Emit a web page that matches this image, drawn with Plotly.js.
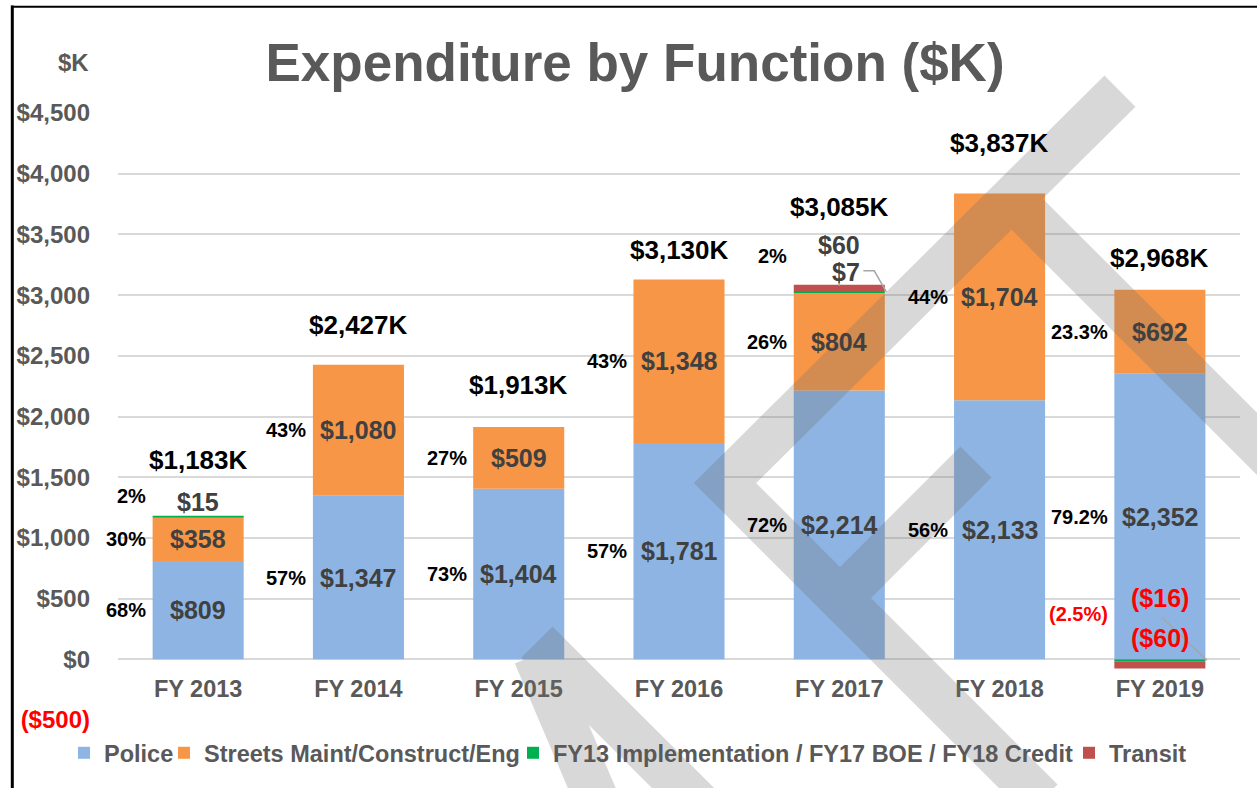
<!DOCTYPE html>
<html><head><meta charset="utf-8">
<script src="https://cdn.plot.ly/plotly-3.0.1.min.js"></script>
<style>html,body{margin:0;padding:0;background:#fff;overflow:hidden}#chart{width:1257px;height:788px}</style>
</head><body><div id="chart"></div>
<script>
// ---------------- data ----------------
const categories = ['FY 2013','FY 2014','FY 2015','FY 2016','FY 2017','FY 2018','FY 2019'];
const police  = [809, 1347, 1404, 1781, 2214, 2133, 2352];
const streets = [358, 1080, 509, 1348, 804, 1704, 692];
const fyOther = [15, 0, 0, 0, 7, 0, -16];
const transit = [0, 0, 0, 0, 60, 0, -60];
const totalLabels = ['$1,183K','$2,427K','$1,913K','$3,130K','$3,085K','$3,837K','$2,968K'];
const policePct  = ['68%','57%','73%','57%','72%','56%','79.2%'];
const streetsPct = ['30%','43%','27%','43%','26%','44%','23.3%'];
const smallPct   = ['2%','','','','2%','','(2.5%)'];
const seriesNames = ['Police','Streets Maint/Construct/Eng','FY13 Implementation / FY17 BOE / FY18 Credit','Transit'];
const yTicks = [-500, 0, 500, 1000, 1500, 2000, 2500, 3000, 3500, 4000, 4500];

// ---------------- style ----------------
const W = 1257, H = 788;
const M = {l: 118, r: 17, t: 113, b: 68};
const Y_RANGE = [-500, 4500];
const FONT = 'Liberation Sans, Arial, Helvetica, sans-serif';
const GREY = '#595959', VAL = '#404040', RED = '#ff0000';
const COLORS = ['#8db4e2', '#f79646', '#00b050', '#c0504d'];
const LEGEND_W = [55, 304, 511, null];
const totalShift = [56, 40, 42, 29, 78, 50, 32];
const smallLabelStyle = [
  {i: 0, s: 'other',   base: 'top',  dy: 14, dx: 0},
  {i: 4, s: 'transit', base: 'top',  dy: 40, dx: 0},
  {i: 4, s: 'other',   base: 'top',  dy: 13, dx: 7},
  {i: 6, s: 'other',   base: 'zero', dy: 61, dx: 0},
  {i: 6, s: 'transit', base: 'zero', dy: 21, dx: 0}
];
const smallPctShift = {0: ['top', 20], 4: ['top', 29], 6: ['zero', 45]};

const plotW = W - M.l - M.r, plotH = H - M.t - M.b;
const px = x => (x - M.l) / plotW;
const py = y => (H - M.b - y) / plotH;
const fmt = v => (v < 0 ? '($' + Math.abs(v).toLocaleString('en-US') + ')' : '$' + v.toLocaleString('en-US'));

const seriesVals = {police, streets, other: fyOther, transit};
const posTop = categories.map((c, i) => [police[i], streets[i], fyOther[i], transit[i]].filter(v => v > 0).reduce((a, b) => a + b, 0));

// ---------------- traces ----------------
const traces = [police, streets, fyOther, transit].map((vals, k) => {
  const t = {type: 'bar', x: categories, y: vals, name: seriesNames[k],
    marker: {color: COLORS[k], line: {width: 0}}, hoverinfo: 'skip'};
  if (LEGEND_W[k]) t.legendwidth = LEGEND_W[k];
  return t;
});

// ---------------- annotations ----------------
const ann = [];
const label = (o) => Object.assign({xref: 'x', yref: 'y', showarrow: false, xanchor: 'center', yanchor: 'middle'}, o);
categories.forEach((c, i) => {
  const pMid = police[i] / 2, sMid = police[i] + streets[i] / 2;
  ann.push(label({x: c, y: pMid, text: fmt(police[i]), font: {family: FONT, size: 25, color: VAL, weight: 700}}));
  ann.push(label({x: c, y: pMid, text: policePct[i], xanchor: 'right', xshift: -50, font: {family: FONT, size: 20, color: '#000', weight: 700}}));
  ann.push(label({x: c, y: sMid, text: fmt(streets[i]), font: {family: FONT, size: 25, color: VAL, weight: 700}}));
  ann.push(label({x: c, y: sMid, text: streetsPct[i], xanchor: 'right', xshift: -50, font: {family: FONT, size: 20, color: '#000', weight: 700}}));
  ann.push(label({x: c, y: posTop[i], yshift: totalShift[i], text: totalLabels[i], font: {family: FONT, size: 26, color: '#000', weight: 700}}));
  if (smallPct[i]) {
    const [b, dy] = smallPctShift[i];
    ann.push(label({x: c, y: b === 'top' ? posTop[i] : 0, yshift: dy, xanchor: 'right', xshift: -50, text: smallPct[i],
      font: {family: FONT, size: 20, color: smallPct[i].startsWith('(') ? RED : '#000', weight: 700}}));
  }
});
smallLabelStyle.forEach(st => {
  const v = seriesVals[st.s][st.i];
  ann.push(label({x: categories[st.i], y: st.base === 'top' ? posTop[st.i] : 0, yshift: st.dy, xshift: st.dx, text: fmt(v),
    font: {family: FONT, size: 25, color: v < 0 ? RED : VAL, weight: 700}}));
});
ann.push({xref: 'paper', yref: 'paper', x: px(91), y: py(62), xanchor: 'right', yanchor: 'middle', showarrow: false,
  text: '$K', font: {family: FONT, size: 24, color: GREY, weight: 700}});

// ---------------- shapes ----------------
const shapes = [];
// frame
shapes.push({type: 'line', xref: 'paper', yref: 'paper', x0: px(12.3), x1: px(12.3), y0: py(5.5), y1: py(800), line: {color: '#000', width: 3}, layer: 'above'});
shapes.push({type: 'line', xref: 'paper', yref: 'paper', x0: px(11), x1: px(1270), y0: py(6.7), y1: py(6.7), line: {color: '#000', width: 2}, layer: 'above'});
// leader lines
const leader = (i, yv, path) => ({type: 'path', xref: 'x', yref: 'y', xsizemode: 'pixel', ysizemode: 'pixel',
  xanchor: i, yanchor: yv, path: path, line: {color: '#a6a6a6', width: 1.5}, layer: 'above'});
shapes.push(leader(4, posTop[4], 'M24,14L35,14L47,-7'));
shapes.push(leader(4, posTop[4], 'M0,8L0,-1'));
shapes.push(leader(6, 0, 'M2,42L47,-1'));
// watermark
const wm = pts => pts.map(seg => seg.map((p, k) => (k ? 'L' : 'M') + px(p[0]).toFixed(4) + ',' + py(p[1]).toFixed(4)).join('')).join('');
const wmPath = wm([
  [[1042, 800], [725, 483], [1120, 91]],
  [[840, 598], [976, 462]],
  [[1012, 199], [1300, 487]],
  [[537, 642], [706, 811]],
  [[535, 655], [599, 805]]
]);
shapes.push({type: 'path', xref: 'paper', yref: 'paper', path: wmPath, line: {color: 'rgba(110,110,110,0.27)', width: 44}, layer: 'above'});

// ---------------- layout ----------------
const layout = {
  width: W, height: H, margin: M, paper_bgcolor: '#fff', plot_bgcolor: '#fff',
  barmode: 'relative', bargap: 0.432,
  title: {text: 'Expenditure by Function ($K)', xref: 'container', yref: 'container', x: 635 / W, y: 1 - 62 / H,
    xanchor: 'center', yanchor: 'middle', font: {family: FONT, size: 53, color: GREY, weight: 700}},
  xaxis: {type: 'category', range: [-0.5, categories.length - 0.5], autorange: false, anchor: 'free',
    position: (0 - Y_RANGE[0]) / (Y_RANGE[1] - Y_RANGE[0]),
    showgrid: false, zeroline: false, showline: false, ticks: '', ticklabelstandoff: 13,
    tickfont: {family: FONT, size: 23.5, color: GREY, weight: 700}, fixedrange: true},
  yaxis: {range: Y_RANGE, autorange: false, tickvals: yTicks,
    ticktext: yTicks.map(v => v < 0 ? '<span style="color:' + RED + '">' + fmt(v) + '</span>' : fmt(v)),
    showgrid: true, gridcolor: '#d9d9d9', gridwidth: 2, zeroline: false, showline: false, ticks: '',
    ticklabelstandoff: 27, tickfont: {family: FONT, size: 24, color: GREY, weight: 700}, fixedrange: true},
  legend: {orientation: 'h', x: px(64), y: py(753), xanchor: 'left', yanchor: 'middle', traceorder: 'normal',
    font: {family: FONT, size: 23.5, color: GREY, weight: 700}, bgcolor: 'rgba(0,0,0,0)', itemclick: false},
  annotations: ann, shapes: shapes, showlegend: true
};
Plotly.newPlot('chart', traces, layout, {displayModeBar: false, staticPlot: true});
</script></body></html>
